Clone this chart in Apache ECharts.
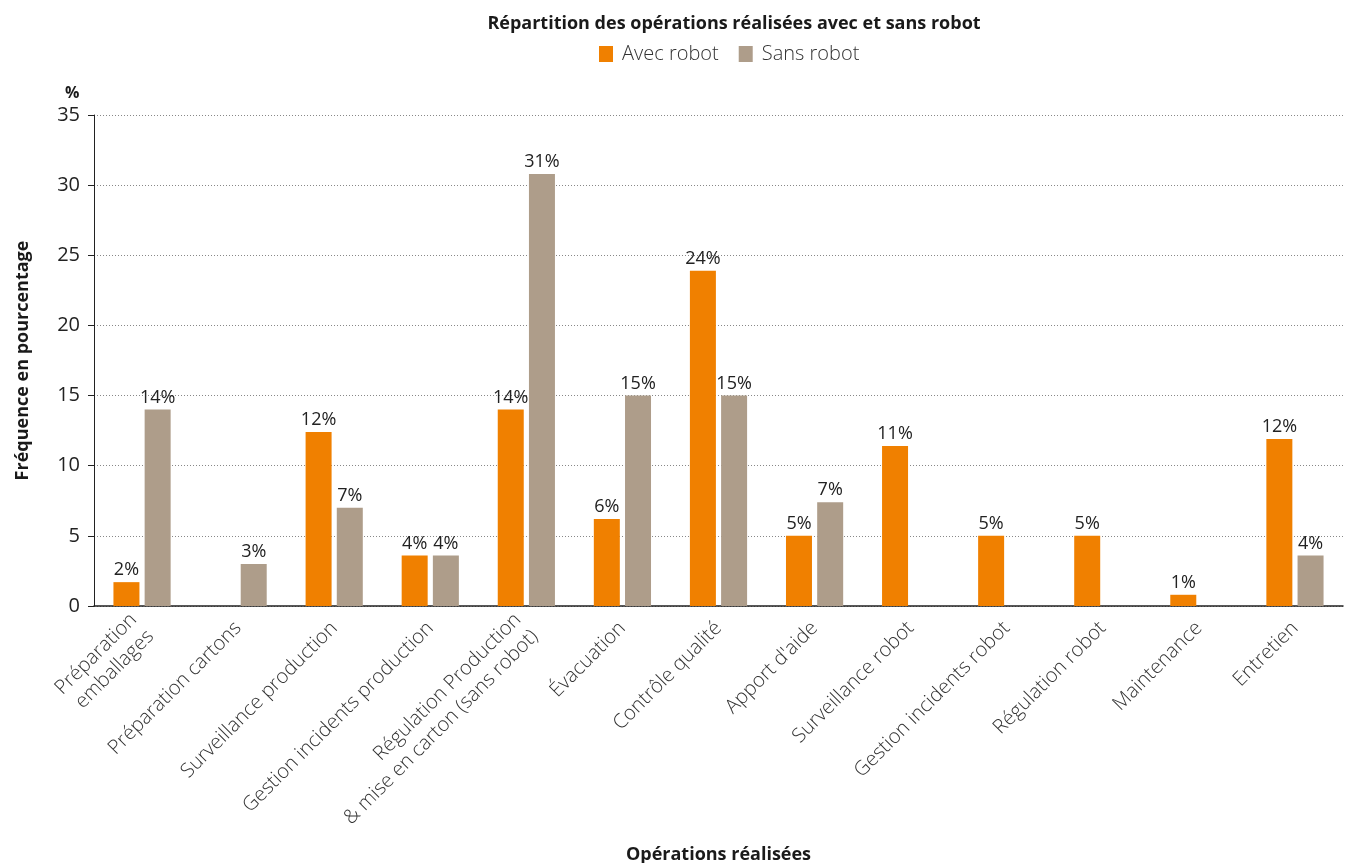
<!DOCTYPE html>
<html>
<head>
<meta charset="utf-8">
<script src="https://cdn.jsdelivr.net/npm/echarts@6/dist/echarts.min.js"></script>
<style>
html,body{margin:0;padding:0;background:#fff;}
#chart{width:1357px;height:863px;}
</style>
</head>
<body>
<div id="chart"></div>
<script>
const categories = [
  "Préparation\nemballages",
  "Préparation cartons",
  "Surveillance production",
  "Gestion incidents production",
  "Régulation Production\n& mise en carton (sans robot)",
  "Évacuation",
  "Contrôle qualité",
  "Apport d'aide",
  "Surveillance robot",
  "Gestion incidents robot",
  "Régulation robot",
  "Maintenance",
  "Entretien"
];
const avecRobot = [1.7, null, 12.4, 3.6, 14.0, 6.2, 23.9, 5.0, 11.4, 5.0, 5.0, 0.8, 11.9];
const sansRobot = [14.0, 3.0, 7.0, 3.6, 30.8, 15.0, 15.0, 7.4, null, null, null, null, 3.6];
const yMin = 0, yMax = 35, yStep = 5;

const FONT = "'Open Sans', 'DejaVu Sans', sans-serif";
const chart = echarts.init(document.getElementById('chart'), null, {renderer: 'canvas'});

const labelCfg = {
  show: true,
  position: 'top',
  distance: 3,
  fontFamily: FONT,
  fontSize: 18,
  color: '#222',
  formatter: p => Math.round(p.value) + '%'
};

chart.setOption({
  animation: false,
  backgroundColor: '#fff',
  title: {
    text: 'Répartition des opérations réalisées avec et sans robot',
    left: 729,
    textAlign: 'center',
    top: 10,
    textStyle: {fontFamily: FONT, fontSize: 18, fontWeight: 'bold', color: '#1a1a1a'}
  },
  legend: {
    top: 39,
    left: 594,
    itemWidth: 14,
    itemHeight: 16,
    itemGap: 20,
    icon: 'rect',
    textStyle: {fontFamily: FONT, fontSize: 20, fontWeight: 300, color: '#333', padding: [0, 0, 0, 4]},
    data: ['Avec robot', 'Sans robot']
  },
  grid: {left: 94, right: 14, top: 115, bottom: 257, containLabel: false, outerBoundsMode: 'none'},
  xAxis: {
    type: 'category',
    data: categories,
    name: 'Opérations réalisées',
    nameLocation: 'middle',
    nameGap: 240,
    nameTextStyle: {fontFamily: FONT, fontSize: 18, fontWeight: 'bold', color: '#1a1a1a'},
    axisLine: {lineStyle: {color: '#222', width: 1.5}},
    axisTick: {show: false},
    axisLabel: {
      interval: 0,
      rotate: 45,
      margin: 19,
      fontFamily: FONT,
      fontSize: 20,
      fontWeight: 300,
      lineHeight: 24,
      color: '#333'
    }
  },
  yAxis: {
    type: 'value',
    min: yMin,
    max: yMax,
    interval: yStep,
    name: 'Fréquence en pourcentage',
    nameLocation: 'middle',
    nameRotate: 90,
    nameGap: 62,
    nameTextStyle: {fontFamily: FONT, fontSize: 18, fontWeight: 'bold', color: '#1a1a1a'},
    axisLine: {show: true, lineStyle: {color: '#222', width: 1}},
    axisTick: {show: true, length: 6, lineStyle: {color: '#222'}},
    axisLabel: {fontFamily: FONT, fontSize: 20, color: '#222', margin: 14},
    splitLine: {show: true, lineStyle: {color: '#888', type: [1, 2], width: 1}}
  },
  graphic: [{
    type: 'text',
    left: 65,
    top: 85,
    style: {text: '%', font: "bold 16px 'Open Sans', sans-serif", fill: '#1a1a1a'}
  }],
  series: [
    {
      name: 'Avec robot',
      type: 'bar',
      data: avecRobot,
      barWidth: 26,
      barGap: '20%',
      itemStyle: {color: '#F08000'},
      label: labelCfg
    },
    {
      name: 'Sans robot',
      type: 'bar',
      data: sansRobot,
      barWidth: 26,
      barGap: '20%',
      itemStyle: {color: '#AE9D8A'},
      label: labelCfg
    }
  ]
});
</script>
</body>
</html>
